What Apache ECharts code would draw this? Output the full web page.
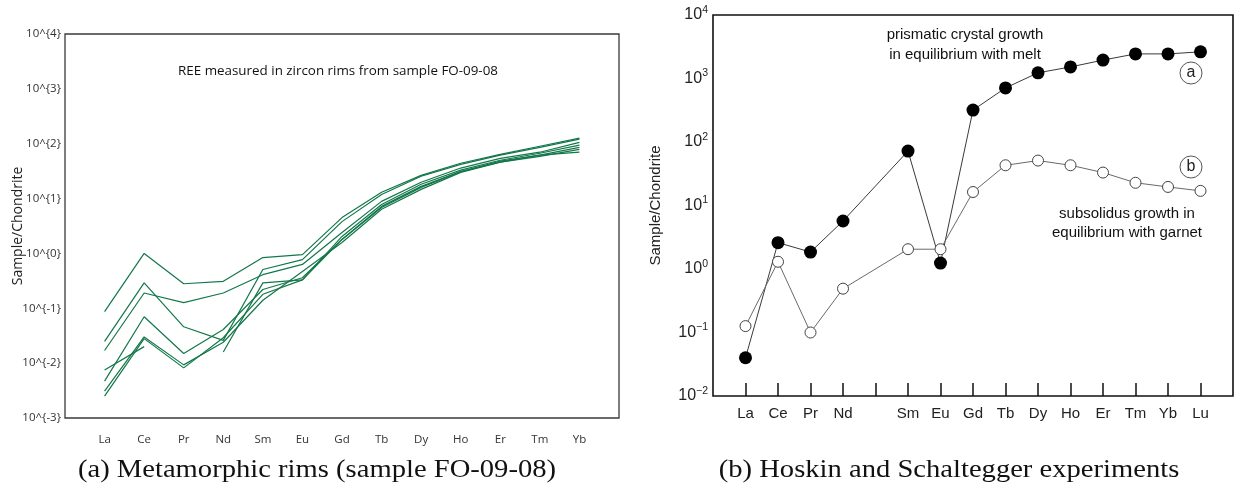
<!DOCTYPE html>
<html>
<head>
<meta charset="utf-8">
<script src="https://cdn.jsdelivr.net/npm/echarts@6/dist/echarts.min.js"></script>
<style>
html,body{margin:0;padding:0;background:#fff;}
#chart{width:1236px;height:487px;}
</style>
</head>
<body>
<div id="chart"></div>
<script>
// ---------- Panel (a): metamorphic rims, sample FO-09-08 ----------
const catsA = ['La','Ce','Pr','Nd','Sm','Eu','Gd','Tb','Dy','Ho','Er','Tm','Yb'];
const rim1 = [0.087, 1.0, 0.28, 0.31, 0.84, 0.95, 4.5, 13, 26.5, 44, 64, 90, 126];
const rim2 = [0.025, 0.29, 0.046, 0.026, 0.51, 0.77, 3.8, 11.9, 25.5, 42, 62, 86, 121];
const rim3 = [0.017, 0.19, 0.127, 0.19, 0.41, 0.63, 2.4, 8.9, 19.8, 36, 54, 70, 106];
const rim4 = [0.0075, 0.020, null, 0.016, 0.29, 0.33, 2.04, 7.8, 18.2, 33, 50, 67, 94];
const rim5 = [0.0047, 0.070, 0.015, 0.041, 0.22, 0.36, 1.8, 7.2, 16.7, 31, 46, 62, 86];
const rim6 = [0.0031, 0.030, 0.0093, 0.024, 0.14, 0.47, 1.58, 6.4, 14.7, 30, 46, 59, 79];
const rim7 = [0.0025, 0.028, 0.0082, 0.029, 0.18, 0.33, 1.8, 6.9, 16, 31, 48, 62, 70];
const rimsA = [rim1, rim2, rim3, rim4, rim5, rim6, rim7];
const titleA = 'REE measured in zircon rims from sample FO-09-08';

// ---------- Panel (b): Hoskin and Schaltegger experiments ----------
const catsB = ['La','Ce','Pr','Nd','','Sm','Eu','Gd','Tb','Dy','Ho','Er','Tm','Yb','Lu'];
const prismatic  = [0.04, 2.6, 1.85, 5.7, null, 72, 1.24, 318, 710, 1230, 1520, 1950, 2440, 2440, 2630];
const subsolidus = [0.126, 1.3, 0.1, 0.49, null, 2.05, 2.05, 16.3, 43, 51, 43, 33, 22.8, 19.6, 17];

const captionA = '(a) Metamorphic rims (sample FO-09-08)';
const captionB = '(b) Hoskin and Schaltegger experiments';

const padCat = a => ['', ...a, ''];
const pad = a => [null, ...a, null];

const chart = echarts.init(document.getElementById('chart'), null, {renderer:'canvas'});

const rimColor = '#13774a';
const seriesA = rimsA.map(r => ({
  type:'line', xAxisIndex:0, yAxisIndex:0, data:pad(r), showSymbol:false,
  connectNulls:false, silent:true, lineStyle:{color:rimColor, width:1.2}
}));

const capStyle = {fontFamily:'Liberation Serif', fontSize:26, fill:'#111', align:'center', verticalAlign:'middle'};

const option = {
  animation:false,
  backgroundColor:'#fff',
  grid:[
    {left:65, top:34, width:554, height:384, show:true, borderColor:'#3a3a3a', borderWidth:1.3},
    {left:713, top:15, width:521, height:381, show:true, borderColor:'#111', borderWidth:1.6}
  ],
  xAxis:[
    {gridIndex:0, type:'category', data:padCat(catsA), boundaryGap:false,
     axisLine:{show:false}, axisTick:{show:false}, splitLine:{show:false},
     axisLabel:{interval:0, margin:16, fontFamily:'Open Sans', fontSize:11.5, color:'#333'}},
    {gridIndex:1, type:'category', data:padCat(catsB), boundaryGap:false,
     axisLine:{show:false}, splitLine:{show:false},
     axisTick:{inside:true, length:13, lineStyle:{color:'#111', width:1.5},
               interval:(i) => i > 0 && i < catsB.length + 1},
     axisLabel:{interval:0, margin:10, fontFamily:'Liberation Sans', fontSize:15, color:'#222'}}
  ],
  yAxis:[
    {gridIndex:0, type:'log', logBase:10, min:0.001, max:10000, splitNumber:7,
     axisLine:{show:false}, axisTick:{show:false}, splitLine:{show:false},
     name:'Sample/Chondrite', nameLocation:'middle', nameGap:40, nameMoveOverlap:false,
     nameTextStyle:{fontFamily:'Open Sans', fontSize:14, color:'#222'},
     axisLabel:{margin:4, fontFamily:'Open Sans', fontSize:11.5, color:'#333',
       formatter:v => '10^{' + Math.round(Math.log10(v)) + '}'}},
    {gridIndex:1, type:'log', logBase:10, min:0.01, max:10000, splitNumber:6,
     axisLine:{show:false}, splitLine:{show:false},
     axisTick:{inside:true, length:13, lineStyle:{color:'#111', width:1.5}},
     name:'Sample/Chondrite', nameLocation:'middle', nameGap:50,
     nameTextStyle:{fontFamily:'Liberation Sans', fontSize:15, color:'#222'},
     axisLabel:{margin:5, color:'#222',
       formatter:v => { const e = Math.round(Math.log10(v)); return '{b|10}{s|' + (e < 0 ? '\u2212' + (-e) : e) + '}'; },
       rich:{b:{fontFamily:'Liberation Sans', fontSize:16, color:'#222'},
             s:{fontFamily:'Liberation Sans', fontSize:10.5, color:'#222', padding:[0,0,10,0]}}}},
    {gridIndex:1, type:'log', logBase:10, min:0.01, max:10000, splitNumber:6, position:'right',
     axisLine:{show:false}, splitLine:{show:false}, axisLabel:{show:false},
     axisTick:{inside:true, length:13, lineStyle:{color:'#111', width:1.5}}}
  ],
  series:[
    ...seriesA,
    {type:'line', xAxisIndex:1, yAxisIndex:1, data:pad(prismatic), connectNulls:true,
     symbol:'circle', symbolSize:13, silent:true,
     lineStyle:{color:'#3a3a3a', width:1}, itemStyle:{color:'#000', borderColor:'#000', borderWidth:0}},
    {type:'line', xAxisIndex:1, yAxisIndex:1, data:pad(subsolidus), connectNulls:true,
     symbol:'circle', symbolSize:11, silent:true,
     lineStyle:{color:'#6a6a6a', width:1}, itemStyle:{color:'#fff', borderColor:'#444', borderWidth:1}}
  ],
  graphic:[
    {type:'text', x:338, y:71, style:{text:titleA, fontFamily:'Open Sans', fontSize:13.4, fill:'#111', align:'center', verticalAlign:'middle'}},
    {type:'text', x:965, y:35, style:{text:'prismatic crystal growth', fontFamily:'Liberation Sans', fontSize:15, fill:'#111', align:'center', verticalAlign:'middle'}},
    {type:'text', x:965, y:55, style:{text:'in equilibrium with melt', fontFamily:'Liberation Sans', fontSize:15, fill:'#111', align:'center', verticalAlign:'middle'}},
    {type:'text', x:1127, y:214, style:{text:'subsolidus growth in', fontFamily:'Liberation Sans', fontSize:15, fill:'#111', align:'center', verticalAlign:'middle'}},
    {type:'text', x:1127, y:233, style:{text:'equilibrium with garnet', fontFamily:'Liberation Sans', fontSize:15, fill:'#111', align:'center', verticalAlign:'middle'}},
    {type:'circle', shape:{cx:1191, cy:73, r:11}, style:{fill:'none', stroke:'#555', lineWidth:1}},
    {type:'text', x:1191, y:73, style:{text:'a', fontFamily:'Liberation Sans', fontSize:16, fill:'#222', align:'center', verticalAlign:'middle'}},
    {type:'circle', shape:{cx:1191, cy:167, r:11}, style:{fill:'none', stroke:'#555', lineWidth:1}},
    {type:'text', x:1191, y:167, style:{text:'b', fontFamily:'Liberation Sans', fontSize:16, fill:'#222', align:'center', verticalAlign:'middle'}},
    {type:'text', x:317, y:470, scaleX:1.1, style:Object.assign({text:captionA}, capStyle)},
    {type:'text', x:949, y:470, scaleX:1.1, style:Object.assign({text:captionB}, capStyle)}
  ]
};
chart.setOption(option);
</script>
</body>
</html>
